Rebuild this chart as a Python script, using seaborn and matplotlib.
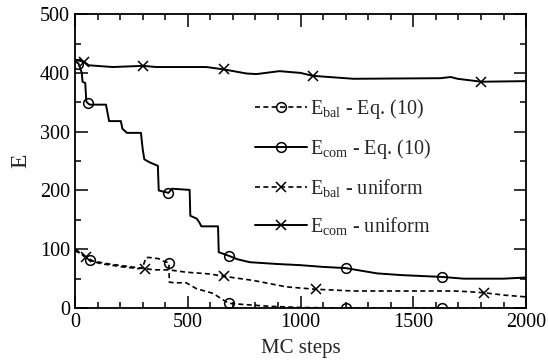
import matplotlib
matplotlib.use("Agg")
import matplotlib.pyplot as plt
import pandas as pd
import seaborn as sns
from matplotlib.ticker import MultipleLocator

sns.set_style("ticks")
plt.rcParams["font.family"] = ["Liberation Serif", "DejaVu Serif"]
plt.rcParams["mathtext.fontset"] = "custom"
plt.rcParams["mathtext.rm"] = "Liberation Serif"
plt.rcParams["mathtext.it"] = "Liberation Serif:italic"

# E_com, Eq. (10): staircase decay
com_eq_steps = [0, 15, 30, 33, 45, 50, 58, 65, 137, 145, 151, 203, 210, 230, 292, 300, 307,
                330, 367, 371, 414, 430, 508, 511, 540, 552, 560, 634, 637, 681, 720, 775,
                894, 998, 1100, 1200, 1339, 1450, 1625, 1724, 1900, 2000]
com_eq_vals = [420, 416, 400, 385, 383, 351, 348, 346, 346, 330, 318, 318, 305, 298, 298, 270,
               253, 248, 242, 200, 196, 203, 201, 157, 152, 145, 139, 139, 95, 89, 83, 78,
               75, 73, 70, 68, 59, 56, 53, 50, 50, 52]
com_eq_marks = [15, 58, 414, 681, 1200, 1625]

# E_bal, Eq. (10)
bal_eq_steps = [0, 20, 40, 65, 90, 122, 160, 211, 285, 300, 315, 330, 370, 390, 416, 418,
                440, 493, 538, 575, 612, 656, 683, 750, 864, 1000, 1200, 1625, 2000]
bal_eq_vals = [100, 95, 88, 81, 78, 75, 73, 70, 67, 70, 86, 86, 84, 80, 77, 44,
               43, 43, 33, 29, 25, 14, 8, 6, 3, 1, 0, 0, 0]
bal_eq_marks = [65, 416, 683, 1200, 1625]

# E_bal, uniform
bal_un_steps = [0, 25, 48, 80, 150, 250, 312, 350, 416, 493, 597, 660, 790, 938, 1067,
                1235, 1681, 1740, 1815, 1902, 2000]
bal_un_vals = [97, 93, 87, 80, 75, 70, 67, 65, 65, 61, 58, 54, 47, 36, 32,
               29, 29, 28, 26, 22, 19]
bal_un_marks = [48, 312, 660, 1067, 1815]

# E_com, uniform
com_un_steps = [0, 40, 60, 166, 303, 359, 582, 659, 760, 805, 906, 1000, 1054, 1235,
                1620, 1666, 1696, 1802, 2000]
com_un_vals = [422, 419, 413, 410, 412, 410, 410, 406, 399, 398, 403, 400, 395, 390,
               391, 393, 390, 385, 386]
com_un_marks = [40, 303, 659, 1054, 1802]

series = [
    (r"E$_{\rm bal}$ - Eq. (10)", bal_eq_steps, bal_eq_vals, bal_eq_marks, "o", True),
    (r"E$_{\rm com}$ - Eq. (10)", com_eq_steps, com_eq_vals, com_eq_marks, "o", False),
    (r"E$_{\rm bal}$ - uniform", bal_un_steps, bal_un_vals, bal_un_marks, "x", True),
    (r"E$_{\rm com}$ - uniform", com_un_steps, com_un_vals, com_un_marks, "x", False),
]

fig = plt.figure(figsize=(5.48, 3.62), dpi=100)
ax = fig.add_axes([0.137, 0.149, 0.823, 0.812])

for label, steps, vals, marks, mk, dashed in series:
    df = pd.DataFrame({"MC steps": steps, "E": vals})
    idx = [steps.index(m) for m in marks]
    kw = dict(color="black", lw=1.2 if dashed else 1.4, marker=mk, markevery=idx,
              markersize=7, mfc="none", mec="black", mew=1.1)
    if dashed:
        kw["dashes"] = (3, 2)
    sns.lineplot(data=df, x="MC steps", y="E", estimator=None, sort=False,
                 label=label, ax=ax, **kw)

ax.set_xlim(0, 2000)
ax.set_ylim(0, 500)
ax.xaxis.set_major_locator(MultipleLocator(500))
ax.xaxis.set_minor_locator(MultipleLocator(100))
ax.yaxis.set_major_locator(MultipleLocator(100))
ax.yaxis.set_minor_locator(MultipleLocator(50))
ax.tick_params(which="both", direction="in", top=True, right=True, labelsize=14.5,
               width=1.1, colors="black")
ax.tick_params(which="major", length=9)
ax.tick_params(which="minor", length=4.5)
for s in ax.spines.values():
    s.set_linewidth(1.3)
    s.set_color("black")

ax.set_xlabel("MC steps", fontsize=15, labelpad=5)
ax.set_ylabel("E", fontsize=17, labelpad=6)

leg = ax.legend(loc="upper left", bbox_to_anchor=(0.38, 0.745), frameon=False,
                fontsize=14.5, handlelength=2.6, handletextpad=0.15, labelspacing=0.8,
                borderaxespad=0)

fig.savefig("out.png", dpi=100)
